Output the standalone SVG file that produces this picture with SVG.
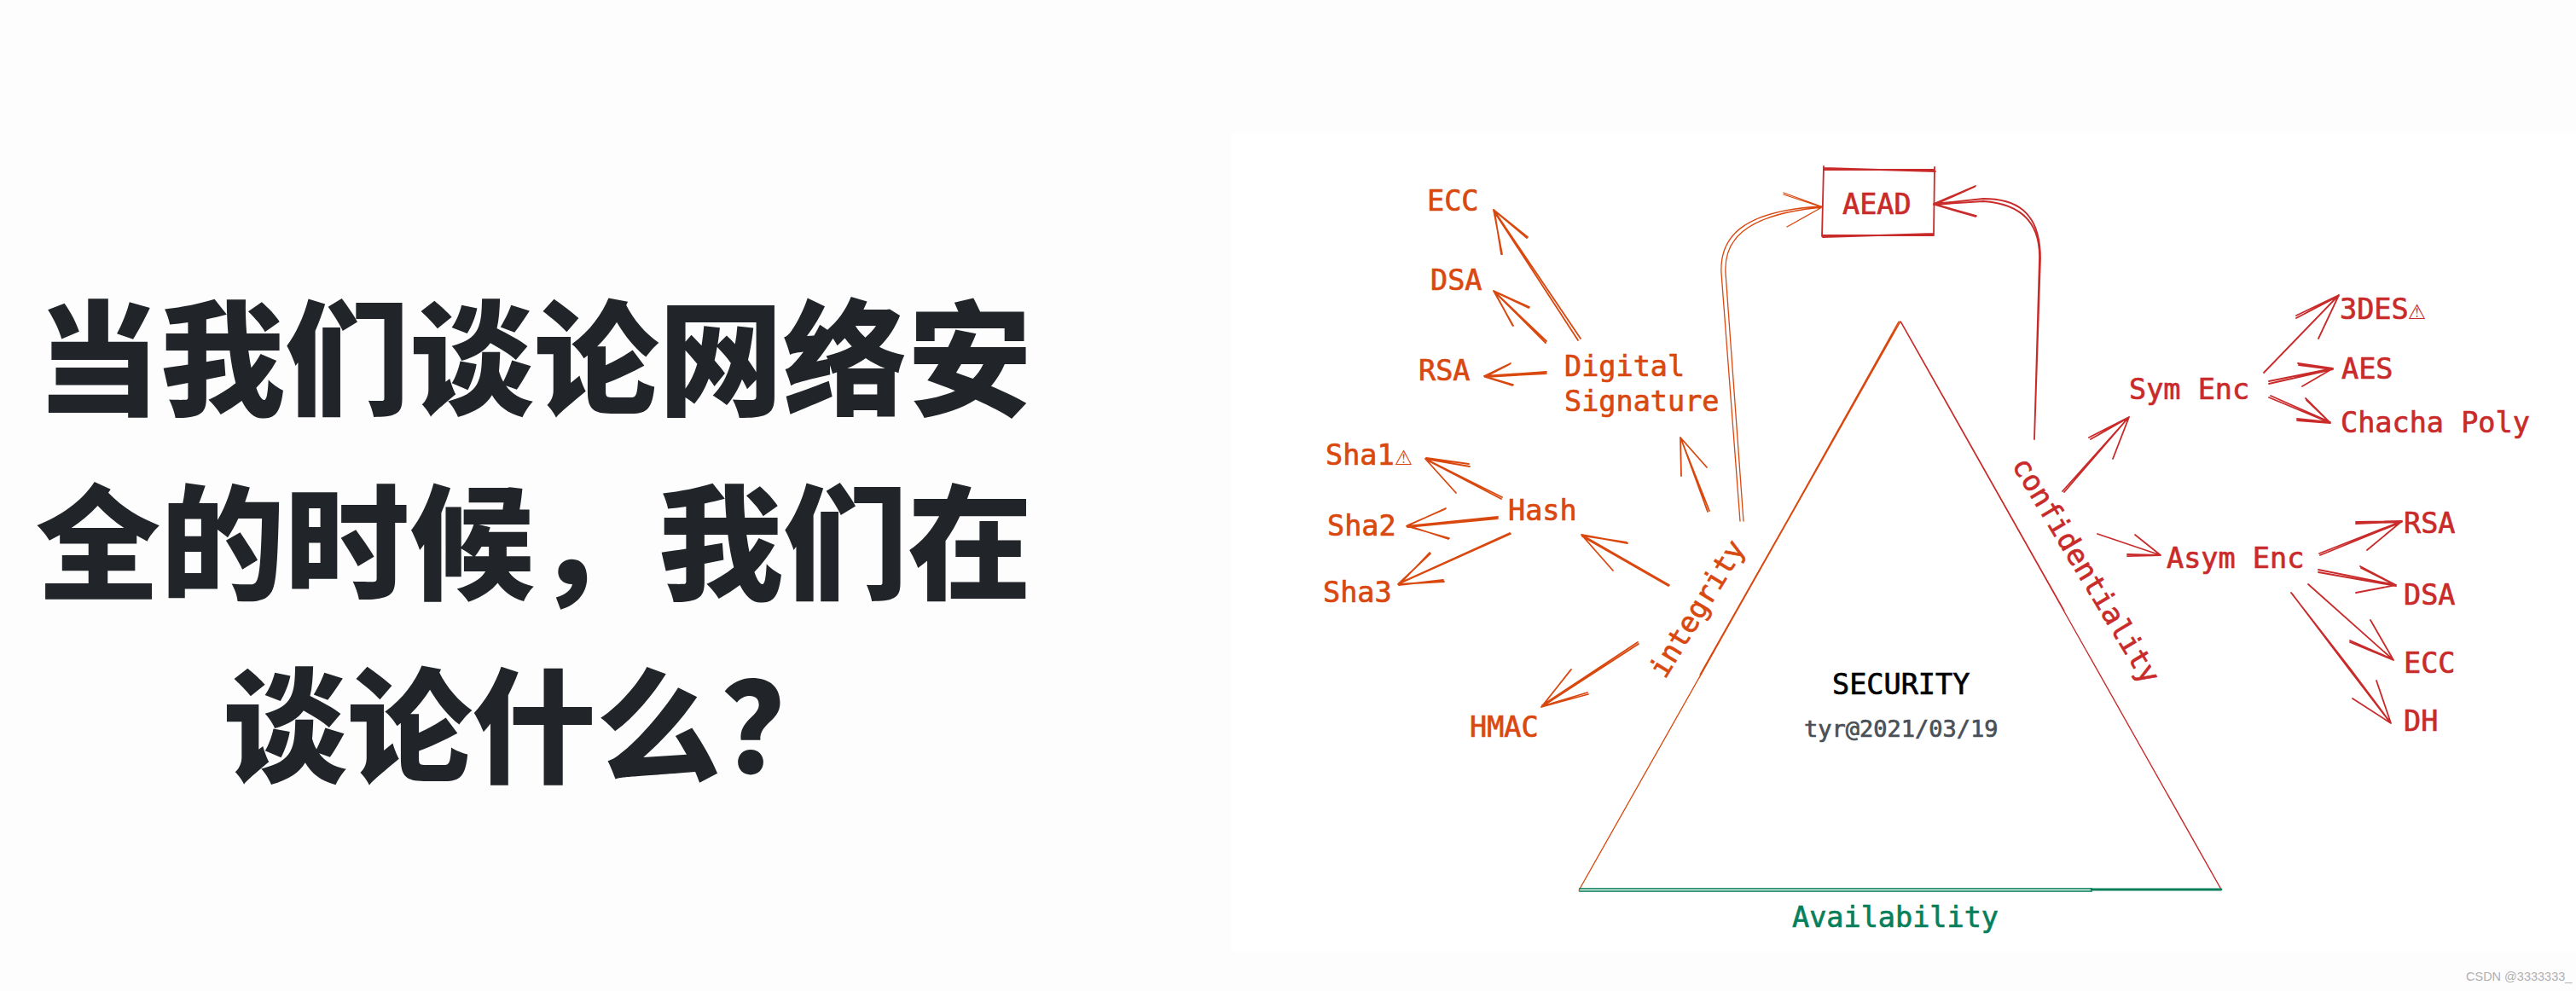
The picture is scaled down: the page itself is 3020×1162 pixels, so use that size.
<svg xmlns="http://www.w3.org/2000/svg" width="3020" height="1162" viewBox="0 0 3020 1162">
<style>
.m{font-family:"DejaVu Sans Mono","Liberation Mono",monospace;font-size:33.5px;stroke-width:.7px}
.o{fill:#d9480f;stroke:#d9480f}.r{fill:#c92a2a;stroke:#c92a2a}.g{fill:#087f5b;stroke:#087f5b}
.k{fill:#000;stroke:#000}.y{fill:#495057;stroke:#495057}
.w{font-size:24px;font-family:"DejaVu Sans",sans-serif;stroke-width:0}
.t{font-family:"Noto Sans CJK SC",sans-serif;font-size:146px;font-weight:900;fill:#212529;text-anchor:middle}
#connectors path,#triangle path,#aead path{fill:none;stroke-linecap:round;stroke-linejoin:round}
.so{stroke:#d9480f;stroke-width:1.8}
.sr{stroke:#c92a2a;stroke-width:1.8}
.th{stroke-width:1.3}
</style>
<rect width="3020" height="1162" fill="#fdfdfe"/>
<rect x="1443" y="157" width="1577" height="958" fill="#ffffff"/>
<g id="title">
<text class="t" x="626" y="475">当我们谈论网络安</text>
<text class="t" x="626" y="691">全的时候，我们在</text>
<text class="t" x="626" y="906">谈论什么？</text>
</g>
<g id="triangle">
<path class="so th" d="M2228 377L1851 1044M2226 377L1992 795M2227 378L1993 791"/>
<path class="sr th" d="M2228 377L2604 1043M2229 378L2420 716M2450 770L2603 1041"/>
<path stroke="#087f5b" stroke-width="2.8" d="M2452 1043L2604 1043"/>
<path stroke="#087f5b" stroke-opacity=".8" stroke-width="2.2" d="M1852 1042L2452 1042M1852 1045L2452 1045"/>
</g>
<g id="connectors">
<path class="so" d="M1853 397L1751 246M1850 399L1751 247M1761 298L1751 246L1791 278M1760 298L1752 247L1790 279"/>
<path class="so" d="M1813 400L1751 341M1812 402L1752 342M1774 382L1751 341L1793 360M1773 381L1752 342L1792 361"/>
<path class="so" d="M1813 436L1740 441M1813 438L1741 442M1771 426L1740 441L1774 451M1770 427L1741 442L1773 452"/>
<path class="so" d="M2004 599L1970 513M2002 600L1971 515M1971 558L1970 513L2001 548"/>
<path class="so th" d="M2044 611L2023 320C2021 285 2040 252 2136 243M2040 611L2018 320C2016 280 2040 247 2136 242M2091 228L2136 243L2095 266M2091 226L2135 242"/>
<path class="so" d="M1761 583L1671 538M1760 585L1672 539M1723 547L1671 538L1707 578M1722 544L1672 537"/>
<path class="so" d="M1756 606L1649 617M1756 608L1650 618M1695 596L1649 617L1699 631M1694 597L1650 616L1698 632"/>
<path class="so" d="M1771 626L1639 685M1770 625L1640 684M1677 649L1639 685L1693 682M1676 648L1640 686L1692 680"/>
<path class="so" d="M1957 686L1854 627M1956 687L1855 629M1908 637L1854 627L1891 669M1907 636L1855 628"/>
<path class="so" d="M1921 755L1807 829M1920 753L1808 827M1842 785L1807 829L1862 814M1841 786L1808 828L1861 812"/>
<path class="sr" d="M2385 515L2392 303C2392 245 2360 233 2325 233L2267 239M2385 515L2391 303C2392 250 2355 238 2325 236L2267 240M2316 218L2267 239L2317 253M2315 219L2268 240L2316 254"/>
<path class="sr" d="M2418 576L2496 489M2420 577L2495 490M2449 513L2496 489L2477 538M2451 515L2495 490"/>
<path class="sr" d="M2654 437L2742 346M2692 370L2742 346L2718 397M2694 372L2741 347M2692 373L2742 347"/>
<path class="sr" d="M2660 447L2735 432M2660 450L2735 433M2694 426L2735 432L2699 453M2695 428L2734 433"/>
<path class="sr" d="M2660 466L2732 496M2662 464L2732 495M2703 467L2732 496L2693 493M2704 469L2731 495L2693 491"/>
<path class="sr" d="M2459 626L2533 651M2503 627L2533 651L2494 652M2494 650L2532 651"/>
<path class="sr" d="M2719 649L2816 611M2720 651L2816 612M2762 612L2816 611L2775 645M2762 614L2815 612"/>
<path class="sr" d="M2718 668L2809 686M2718 671L2809 687M2767 664L2809 686L2762 695M2768 666L2808 686"/>
<path class="sr" d="M2706 685L2806 774M2779 727L2806 774L2755 753M2755 751L2805 773"/>
<path class="sr" d="M2686 695L2756 785L2803 848M2687 696L2755 786L2802 847M2786 798L2803 848L2758 819"/>
</g>
<g id="aead">
<path class="sr" d="M2138 199L2268 199M2138 197L2269 201M2268 196L2267 276M2138 195L2136 277M2136 276L2267 276M2137 278L2267 274"/>
<text class="m r" x="2160" y="251">AEAD</text>
</g>
<g id="ecc-left"><text class="m o" x="1673" y="247">ECC</text></g>
<g id="dsa-left"><text class="m o" x="1677" y="340">DSA</text></g>
<g id="rsa-left"><text class="m o" x="1663" y="446">RSA</text></g>
<g id="digital-signature"><text class="m o" x="1834" y="441">Digital</text><text class="m o" x="1834" y="482">Signature</text></g>
<g id="sha1"><text class="m o" x="1554" y="545">Sha1<tspan class="w" dx="0">⚠</tspan></text></g>
<g id="sha2"><text class="m o" x="1556" y="628">Sha2</text></g>
<g id="sha3"><text class="m o" x="1551" y="706">Sha3</text></g>
<g id="hash"><text class="m o" x="1768" y="610">Hash</text></g>
<g id="hmac"><text class="m o" x="1723" y="864">HMAC</text></g>
<g id="integrity"><text class="m o" transform="translate(1952 797) rotate(-58.5)">integrity</text></g>
<g id="confidentiality"><text class="m r" transform="translate(2358 545) rotate(59)">confidentiality</text></g>
<g id="security"><text class="m k" x="2148" y="814">SECURITY</text><text class="m y" style="font-size:27px" x="2115" y="864">tyr@2021/03/19</text></g>
<g id="availability"><text class="m g" x="2101" y="1087">Availability</text></g>
<g id="sym-enc"><text class="m r" x="2496" y="468">Sym Enc</text></g>
<g id="des3"><text class="m r" x="2743" y="374">3DES<tspan class="w" dx="-1">⚠</tspan></text></g>
<g id="aes"><text class="m r" x="2745" y="444">AES</text></g>
<g id="chacha"><text class="m r" x="2744" y="507">Chacha Poly</text></g>
<g id="asym-enc"><text class="m r" x="2540" y="666">Asym Enc</text></g>
<g id="rsa-right"><text class="m r" x="2818" y="625">RSA</text></g>
<g id="dsa-right"><text class="m r" x="2818" y="709">DSA</text></g>
<g id="ecc-right"><text class="m r" x="2818" y="789">ECC</text></g>
<g id="dh"><text class="m r" x="2818" y="857">DH</text></g>
<text x="2891" y="1150" font-family="Liberation Sans, sans-serif" font-size="14.5" fill="#b0b0b0">CSDN @3333333_</text>
</svg>
